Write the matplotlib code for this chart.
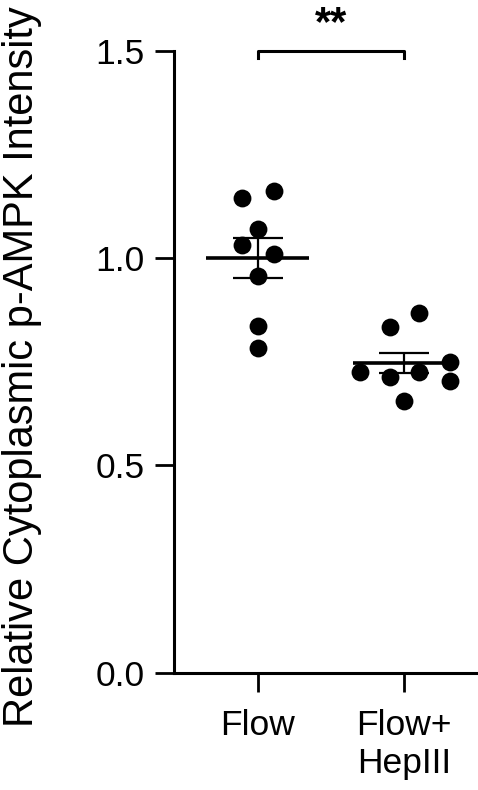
import numpy as np
import matplotlib.pyplot as plt

plt.rcParams['font.family'] = ['Liberation Sans', 'DejaVu Sans']

groups = ['Flow', 'Flow+\nHepIII']
flow_vals = [1.146, 1.162, 1.071, 1.031, 1.009, 0.957, 0.837, 0.782]
flow_jit = [-0.105, 0.11, 0.0, -0.105, 0.11, 0.0, 0.0, 0.0]
hep_vals = [0.868, 0.834, 0.749, 0.726, 0.713, 0.726, 0.703, 0.655]
hep_jit = [0.10, -0.10, 0.31, -0.30, -0.10, 0.10, 0.31, 0.0]
sig_label = '**'

fig = plt.figure(figsize=(4.78, 7.90), dpi=100)
ax = fig.add_axes([0.364, 0.1485, 0.636, 0.7873])

for i, (vals, jit) in enumerate([(flow_vals, flow_jit), (hep_vals, hep_jit)]):
    vals = np.array(vals)
    ax.scatter(i + np.array(jit), vals, s=165, color='black', zorder=3, linewidths=0)
    m = vals.mean()
    sem = vals.std(ddof=1) / np.sqrt(len(vals))
    ax.hlines(m, i - 0.35, i + 0.35, color='black', lw=2.6, zorder=4)
    ax.errorbar(i, m, yerr=sem, fmt='none', ecolor='black', elinewidth=1.6,
                capsize=18, capthick=1.6, zorder=4)

# significance bracket
ax.plot([0, 0, 1, 1], [1.483, 1.5, 1.5, 1.483], color='black', lw=2.2, clip_on=False)
fig.text(0.5 * (257.7 + 404.3) / 478, 1 - 24 / 790, sig_label, ha='center', va='center',
         fontsize=30, fontweight='bold')

ax.set_xlim(-0.571, 1.503)
ax.set_ylim(0, 1.5)
ax.set_xticks([0, 1])
ax.set_xticklabels(groups)
ax.set_yticks([0, 0.5, 1.0, 1.5])
ax.set_yticklabels(['0.0', '0.5', '1.0', '1.5'])
ax.spines['top'].set_visible(False)
ax.spines['right'].set_visible(False)
for s in ['left', 'bottom']:
    ax.spines[s].set_linewidth(2.2)
ax.tick_params(axis='y', length=14, width=2.0, labelsize=25.5, pad=7, colors='black')
ax.tick_params(axis='x', length=14, width=2.0, labelsize=25.5, pad=12, colors='black')
ax.set_ylabel('Relative Cytoplasmic p-AMPK Intensity', fontsize=30)
ax.yaxis.set_label_coords(-0.434, 0.4915)

fig.savefig('out.png', dpi=100)
